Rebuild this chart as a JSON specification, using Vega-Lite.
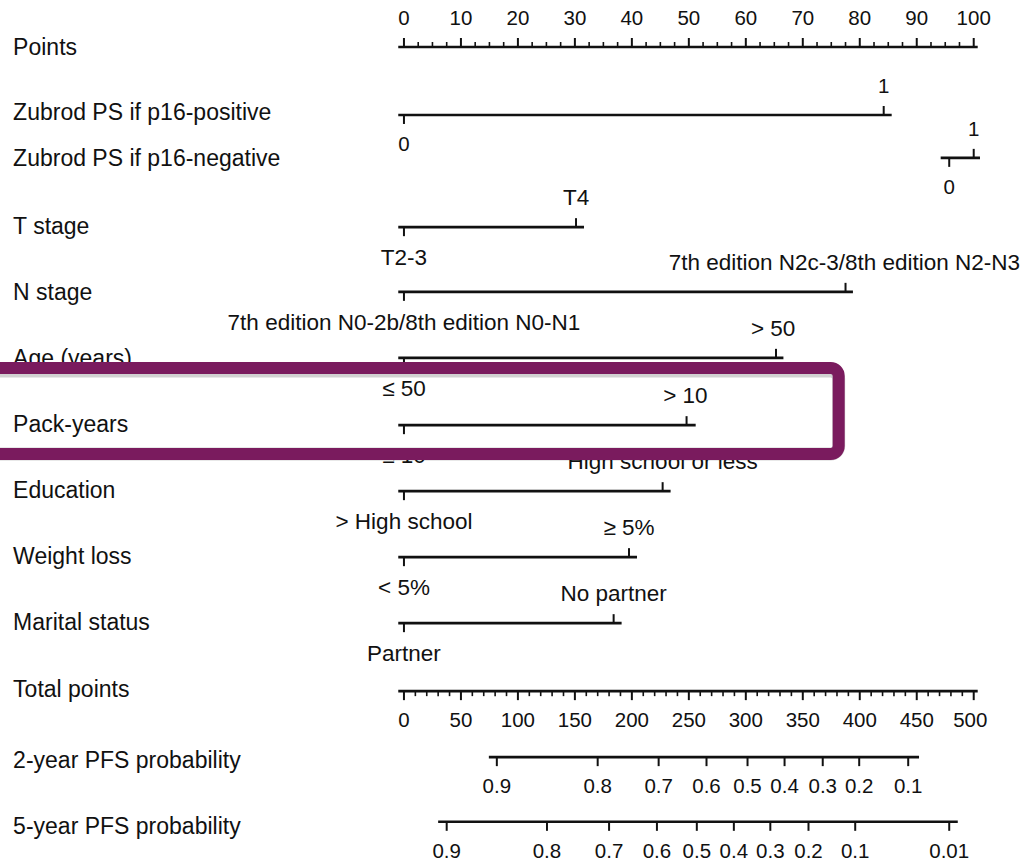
{
  "$schema": "https://vega.github.io/schema/vega-lite/v6.json",
  "width": 1025,
  "height": 863,
  "autosize": {"type": "fit", "contains": "padding"},
  "padding": 0,
  "background": "white",
  "config": {"view": {"stroke": null}},
  "datasets": {
    "rows": [
      {"name": "Points", "row": 0.01},
      {"name": "Zubrod PS if p16-positive", "row": 1.0},
      {"name": "Zubrod PS if p16-negative", "row": 1.7},
      {"name": "T stage", "row": 2.73},
      {"name": "N stage", "row": 3.73},
      {"name": "Age (years)", "row": 4.72},
      {"name": "Pack-years", "row": 5.73},
      {"name": "Education", "row": 6.73},
      {"name": "Weight loss", "row": 7.73},
      {"name": "Marital status", "row": 8.73},
      {"name": "Total points", "row": 9.74},
      {"name": "2-year PFS probability", "row": 10.82},
      {"name": "5-year PFS probability", "row": 11.82}
    ],
    "lines": [
      {"name": "Points", "row": 0, "start": -1.0, "end": 100.7},
      {"name": "Zubrod PS if p16-positive", "row": 1.03, "start": -1.0, "end": 85.6},
      {"name": "Zubrod PS if p16-negative", "row": 1.68, "start": 94.2, "end": 101.1},
      {"name": "T stage", "row": 2.73, "start": -1.0, "end": 31.6},
      {"name": "N stage", "row": 3.71, "start": -1.0, "end": 78.8},
      {"name": "Age (years)", "row": 4.71, "start": -1.0, "end": 66.6},
      {"name": "Pack-years", "row": 5.73, "start": -1.0, "end": 51.2},
      {"name": "Education", "row": 6.73, "start": -1.0, "end": 46.8},
      {"name": "Weight loss", "row": 7.73, "start": -1.0, "end": 40.9},
      {"name": "Marital status", "row": 8.73, "start": -1.0, "end": 38.2},
      {"name": "Total points", "row": 9.76, "start": -1.0, "end": 100.7},
      {"name": "2-year PFS probability", "row": 10.76, "start": 14.9, "end": 90.4},
      {"name": "5-year PFS probability", "row": 11.74, "start": 6.0, "end": 97.2}
    ],
    "ticks": [
      {"name": "Points", "row": 0, "pts": 0, "lx": 0, "label": "0", "dir": "up", "major": true, "cat": false},
      {"name": "Points", "row": 0, "pts": 2.5, "lx": 2.5, "label": "", "dir": "up", "major": false, "cat": false},
      {"name": "Points", "row": 0, "pts": 5, "lx": 5, "label": "", "dir": "up", "major": false, "cat": false},
      {"name": "Points", "row": 0, "pts": 7.5, "lx": 7.5, "label": "", "dir": "up", "major": false, "cat": false},
      {"name": "Points", "row": 0, "pts": 10, "lx": 10, "label": "10", "dir": "up", "major": true, "cat": false},
      {"name": "Points", "row": 0, "pts": 12.5, "lx": 12.5, "label": "", "dir": "up", "major": false, "cat": false},
      {"name": "Points", "row": 0, "pts": 15, "lx": 15, "label": "", "dir": "up", "major": false, "cat": false},
      {"name": "Points", "row": 0, "pts": 17.5, "lx": 17.5, "label": "", "dir": "up", "major": false, "cat": false},
      {"name": "Points", "row": 0, "pts": 20, "lx": 20, "label": "20", "dir": "up", "major": true, "cat": false},
      {"name": "Points", "row": 0, "pts": 22.5, "lx": 22.5, "label": "", "dir": "up", "major": false, "cat": false},
      {"name": "Points", "row": 0, "pts": 25, "lx": 25, "label": "", "dir": "up", "major": false, "cat": false},
      {"name": "Points", "row": 0, "pts": 27.5, "lx": 27.5, "label": "", "dir": "up", "major": false, "cat": false},
      {"name": "Points", "row": 0, "pts": 30, "lx": 30, "label": "30", "dir": "up", "major": true, "cat": false},
      {"name": "Points", "row": 0, "pts": 32.5, "lx": 32.5, "label": "", "dir": "up", "major": false, "cat": false},
      {"name": "Points", "row": 0, "pts": 35, "lx": 35, "label": "", "dir": "up", "major": false, "cat": false},
      {"name": "Points", "row": 0, "pts": 37.5, "lx": 37.5, "label": "", "dir": "up", "major": false, "cat": false},
      {"name": "Points", "row": 0, "pts": 40, "lx": 40, "label": "40", "dir": "up", "major": true, "cat": false},
      {"name": "Points", "row": 0, "pts": 42.5, "lx": 42.5, "label": "", "dir": "up", "major": false, "cat": false},
      {"name": "Points", "row": 0, "pts": 45, "lx": 45, "label": "", "dir": "up", "major": false, "cat": false},
      {"name": "Points", "row": 0, "pts": 47.5, "lx": 47.5, "label": "", "dir": "up", "major": false, "cat": false},
      {"name": "Points", "row": 0, "pts": 50, "lx": 50, "label": "50", "dir": "up", "major": true, "cat": false},
      {"name": "Points", "row": 0, "pts": 52.5, "lx": 52.5, "label": "", "dir": "up", "major": false, "cat": false},
      {"name": "Points", "row": 0, "pts": 55, "lx": 55, "label": "", "dir": "up", "major": false, "cat": false},
      {"name": "Points", "row": 0, "pts": 57.5, "lx": 57.5, "label": "", "dir": "up", "major": false, "cat": false},
      {"name": "Points", "row": 0, "pts": 60, "lx": 60, "label": "60", "dir": "up", "major": true, "cat": false},
      {"name": "Points", "row": 0, "pts": 62.5, "lx": 62.5, "label": "", "dir": "up", "major": false, "cat": false},
      {"name": "Points", "row": 0, "pts": 65, "lx": 65, "label": "", "dir": "up", "major": false, "cat": false},
      {"name": "Points", "row": 0, "pts": 67.5, "lx": 67.5, "label": "", "dir": "up", "major": false, "cat": false},
      {"name": "Points", "row": 0, "pts": 70, "lx": 70, "label": "70", "dir": "up", "major": true, "cat": false},
      {"name": "Points", "row": 0, "pts": 72.5, "lx": 72.5, "label": "", "dir": "up", "major": false, "cat": false},
      {"name": "Points", "row": 0, "pts": 75, "lx": 75, "label": "", "dir": "up", "major": false, "cat": false},
      {"name": "Points", "row": 0, "pts": 77.5, "lx": 77.5, "label": "", "dir": "up", "major": false, "cat": false},
      {"name": "Points", "row": 0, "pts": 80, "lx": 80, "label": "80", "dir": "up", "major": true, "cat": false},
      {"name": "Points", "row": 0, "pts": 82.5, "lx": 82.5, "label": "", "dir": "up", "major": false, "cat": false},
      {"name": "Points", "row": 0, "pts": 85, "lx": 85, "label": "", "dir": "up", "major": false, "cat": false},
      {"name": "Points", "row": 0, "pts": 87.5, "lx": 87.5, "label": "", "dir": "up", "major": false, "cat": false},
      {"name": "Points", "row": 0, "pts": 90, "lx": 90, "label": "90", "dir": "up", "major": true, "cat": false},
      {"name": "Points", "row": 0, "pts": 92.5, "lx": 92.5, "label": "", "dir": "up", "major": false, "cat": false},
      {"name": "Points", "row": 0, "pts": 95, "lx": 95, "label": "", "dir": "up", "major": false, "cat": false},
      {"name": "Points", "row": 0, "pts": 97.5, "lx": 97.5, "label": "", "dir": "up", "major": false, "cat": false},
      {"name": "Points", "row": 0, "pts": 100, "lx": 100, "label": "100", "dir": "up", "major": true, "cat": false},

      {"name": "Zubrod PS if p16-positive", "row": 1.03, "pts": 0, "lx": 0, "label": "0", "dir": "down", "major": true, "cat": false},
      {"name": "Zubrod PS if p16-positive", "row": 1.03, "pts": 84.2, "lx": 84.2, "label": "1", "dir": "up", "major": true, "cat": false},
      {"name": "Zubrod PS if p16-negative", "row": 1.68, "pts": 95.7, "lx": 95.7, "label": "0", "dir": "down", "major": true, "cat": false},
      {"name": "Zubrod PS if p16-negative", "row": 1.68, "pts": 100, "lx": 100, "label": "1", "dir": "up", "major": true, "cat": false},
      {"name": "T stage", "row": 2.73, "pts": 0, "lx": 0, "label": "T2-3", "dir": "down", "major": true, "cat": true},
      {"name": "T stage", "row": 2.73, "pts": 30.2, "lx": 30.2, "label": "T4", "dir": "up", "major": true, "cat": true},
      {"name": "N stage", "row": 3.71, "pts": 0, "lx": 0, "label": "7th edition N0-2b/8th edition N0-N1", "dir": "down", "major": true, "cat": true},
      {"name": "N stage", "row": 3.71, "pts": 77.5, "lx": 77.3, "label": "7th edition N2c-3/8th edition N2-N3", "dir": "up", "major": true, "cat": true},
      {"name": "Age (years)", "row": 4.71, "pts": 0, "lx": 0, "label": "≤ 50", "dir": "down", "major": true, "cat": true},
      {"name": "Age (years)", "row": 4.71, "pts": 65.3, "lx": 64.8, "label": "> 50", "dir": "up", "major": true, "cat": true},
      {"name": "Pack-years", "row": 5.73, "pts": 0, "lx": 0, "label": "≤ 10", "dir": "down", "major": true, "cat": true},
      {"name": "Pack-years", "row": 5.73, "pts": 49.6, "lx": 49.4, "label": "> 10", "dir": "up", "major": true, "cat": true},
      {"name": "Education", "row": 6.73, "pts": 0, "lx": 0, "label": "> High school", "dir": "down", "major": true, "cat": true},
      {"name": "Education", "row": 6.73, "pts": 45.4, "lx": 45.4, "label": "High school or less", "dir": "up", "major": true, "cat": true},
      {"name": "Weight loss", "row": 7.73, "pts": 0, "lx": 0, "label": "< 5%", "dir": "down", "major": true, "cat": true},
      {"name": "Weight loss", "row": 7.73, "pts": 39.5, "lx": 39.5, "label": "≥ 5%", "dir": "up", "major": true, "cat": true},
      {"name": "Marital status", "row": 8.73, "pts": 0, "lx": 0, "label": "Partner", "dir": "down", "major": true, "cat": true},
      {"name": "Marital status", "row": 8.73, "pts": 36.8, "lx": 36.8, "label": "No partner", "dir": "up", "major": true, "cat": true},

      {"name": "Total points", "row": 9.76, "pts": 0, "lx": 0, "label": "0", "dir": "down", "major": true, "cat": false},
      {"name": "Total points", "row": 9.76, "pts": 2, "lx": 2, "label": "", "dir": "down", "major": false, "cat": false},
      {"name": "Total points", "row": 9.76, "pts": 4, "lx": 4, "label": "", "dir": "down", "major": false, "cat": false},
      {"name": "Total points", "row": 9.76, "pts": 6, "lx": 6, "label": "", "dir": "down", "major": false, "cat": false},
      {"name": "Total points", "row": 9.76, "pts": 8, "lx": 8, "label": "", "dir": "down", "major": false, "cat": false},
      {"name": "Total points", "row": 9.76, "pts": 10, "lx": 10, "label": "50", "dir": "down", "major": true, "cat": false},
      {"name": "Total points", "row": 9.76, "pts": 12, "lx": 12, "label": "", "dir": "down", "major": false, "cat": false},
      {"name": "Total points", "row": 9.76, "pts": 14, "lx": 14, "label": "", "dir": "down", "major": false, "cat": false},
      {"name": "Total points", "row": 9.76, "pts": 16, "lx": 16, "label": "", "dir": "down", "major": false, "cat": false},
      {"name": "Total points", "row": 9.76, "pts": 18, "lx": 18, "label": "", "dir": "down", "major": false, "cat": false},
      {"name": "Total points", "row": 9.76, "pts": 20, "lx": 20, "label": "100", "dir": "down", "major": true, "cat": false},
      {"name": "Total points", "row": 9.76, "pts": 22, "lx": 22, "label": "", "dir": "down", "major": false, "cat": false},
      {"name": "Total points", "row": 9.76, "pts": 24, "lx": 24, "label": "", "dir": "down", "major": false, "cat": false},
      {"name": "Total points", "row": 9.76, "pts": 26, "lx": 26, "label": "", "dir": "down", "major": false, "cat": false},
      {"name": "Total points", "row": 9.76, "pts": 28, "lx": 28, "label": "", "dir": "down", "major": false, "cat": false},
      {"name": "Total points", "row": 9.76, "pts": 30, "lx": 30, "label": "150", "dir": "down", "major": true, "cat": false},
      {"name": "Total points", "row": 9.76, "pts": 32, "lx": 32, "label": "", "dir": "down", "major": false, "cat": false},
      {"name": "Total points", "row": 9.76, "pts": 34, "lx": 34, "label": "", "dir": "down", "major": false, "cat": false},
      {"name": "Total points", "row": 9.76, "pts": 36, "lx": 36, "label": "", "dir": "down", "major": false, "cat": false},
      {"name": "Total points", "row": 9.76, "pts": 38, "lx": 38, "label": "", "dir": "down", "major": false, "cat": false},
      {"name": "Total points", "row": 9.76, "pts": 40, "lx": 40, "label": "200", "dir": "down", "major": true, "cat": false},
      {"name": "Total points", "row": 9.76, "pts": 42, "lx": 42, "label": "", "dir": "down", "major": false, "cat": false},
      {"name": "Total points", "row": 9.76, "pts": 44, "lx": 44, "label": "", "dir": "down", "major": false, "cat": false},
      {"name": "Total points", "row": 9.76, "pts": 46, "lx": 46, "label": "", "dir": "down", "major": false, "cat": false},
      {"name": "Total points", "row": 9.76, "pts": 48, "lx": 48, "label": "", "dir": "down", "major": false, "cat": false},
      {"name": "Total points", "row": 9.76, "pts": 50, "lx": 50, "label": "250", "dir": "down", "major": true, "cat": false},
      {"name": "Total points", "row": 9.76, "pts": 52, "lx": 52, "label": "", "dir": "down", "major": false, "cat": false},
      {"name": "Total points", "row": 9.76, "pts": 54, "lx": 54, "label": "", "dir": "down", "major": false, "cat": false},
      {"name": "Total points", "row": 9.76, "pts": 56, "lx": 56, "label": "", "dir": "down", "major": false, "cat": false},
      {"name": "Total points", "row": 9.76, "pts": 58, "lx": 58, "label": "", "dir": "down", "major": false, "cat": false},
      {"name": "Total points", "row": 9.76, "pts": 60, "lx": 60, "label": "300", "dir": "down", "major": true, "cat": false},
      {"name": "Total points", "row": 9.76, "pts": 62, "lx": 62, "label": "", "dir": "down", "major": false, "cat": false},
      {"name": "Total points", "row": 9.76, "pts": 64, "lx": 64, "label": "", "dir": "down", "major": false, "cat": false},
      {"name": "Total points", "row": 9.76, "pts": 66, "lx": 66, "label": "", "dir": "down", "major": false, "cat": false},
      {"name": "Total points", "row": 9.76, "pts": 68, "lx": 68, "label": "", "dir": "down", "major": false, "cat": false},
      {"name": "Total points", "row": 9.76, "pts": 70, "lx": 70, "label": "350", "dir": "down", "major": true, "cat": false},
      {"name": "Total points", "row": 9.76, "pts": 72, "lx": 72, "label": "", "dir": "down", "major": false, "cat": false},
      {"name": "Total points", "row": 9.76, "pts": 74, "lx": 74, "label": "", "dir": "down", "major": false, "cat": false},
      {"name": "Total points", "row": 9.76, "pts": 76, "lx": 76, "label": "", "dir": "down", "major": false, "cat": false},
      {"name": "Total points", "row": 9.76, "pts": 78, "lx": 78, "label": "", "dir": "down", "major": false, "cat": false},
      {"name": "Total points", "row": 9.76, "pts": 80, "lx": 80, "label": "400", "dir": "down", "major": true, "cat": false},
      {"name": "Total points", "row": 9.76, "pts": 82, "lx": 82, "label": "", "dir": "down", "major": false, "cat": false},
      {"name": "Total points", "row": 9.76, "pts": 84, "lx": 84, "label": "", "dir": "down", "major": false, "cat": false},
      {"name": "Total points", "row": 9.76, "pts": 86, "lx": 86, "label": "", "dir": "down", "major": false, "cat": false},
      {"name": "Total points", "row": 9.76, "pts": 88, "lx": 88, "label": "", "dir": "down", "major": false, "cat": false},
      {"name": "Total points", "row": 9.76, "pts": 90, "lx": 90, "label": "450", "dir": "down", "major": true, "cat": false},
      {"name": "Total points", "row": 9.76, "pts": 92, "lx": 92, "label": "", "dir": "down", "major": false, "cat": false},
      {"name": "Total points", "row": 9.76, "pts": 94, "lx": 94, "label": "", "dir": "down", "major": false, "cat": false},
      {"name": "Total points", "row": 9.76, "pts": 96, "lx": 96, "label": "", "dir": "down", "major": false, "cat": false},
      {"name": "Total points", "row": 9.76, "pts": 98, "lx": 98, "label": "", "dir": "down", "major": false, "cat": false},
      {"name": "Total points", "row": 9.76, "pts": 100, "lx": 99.4, "label": "500", "dir": "down", "major": true, "cat": false},

      {"name": "2-year PFS probability", "row": 10.76, "pts": 16.3, "lx": 16.3, "label": "0.9", "dir": "down", "major": true, "cat": false},
      {"name": "2-year PFS probability", "row": 10.76, "pts": 34.0, "lx": 34.0, "label": "0.8", "dir": "down", "major": true, "cat": false},
      {"name": "2-year PFS probability", "row": 10.76, "pts": 44.7, "lx": 44.7, "label": "0.7", "dir": "down", "major": true, "cat": false},
      {"name": "2-year PFS probability", "row": 10.76, "pts": 53.1, "lx": 53.1, "label": "0.6", "dir": "down", "major": true, "cat": false},
      {"name": "2-year PFS probability", "row": 10.76, "pts": 60.3, "lx": 60.3, "label": "0.5", "dir": "down", "major": true, "cat": false},
      {"name": "2-year PFS probability", "row": 10.76, "pts": 66.8, "lx": 66.8, "label": "0.4", "dir": "down", "major": true, "cat": false},
      {"name": "2-year PFS probability", "row": 10.76, "pts": 73.5, "lx": 73.5, "label": "0.3", "dir": "down", "major": true, "cat": false},
      {"name": "2-year PFS probability", "row": 10.76, "pts": 79.9, "lx": 79.9, "label": "0.2", "dir": "down", "major": true, "cat": false},
      {"name": "2-year PFS probability", "row": 10.76, "pts": 88.5, "lx": 88.5, "label": "0.1", "dir": "down", "major": true, "cat": false},

      {"name": "5-year PFS probability", "row": 11.74, "pts": 7.5, "lx": 7.5, "label": "0.9", "dir": "down", "major": true, "cat": false},
      {"name": "5-year PFS probability", "row": 11.74, "pts": 25.1, "lx": 25.1, "label": "0.8", "dir": "down", "major": true, "cat": false},
      {"name": "5-year PFS probability", "row": 11.74, "pts": 36.0, "lx": 36.0, "label": "0.7", "dir": "down", "major": true, "cat": false},
      {"name": "5-year PFS probability", "row": 11.74, "pts": 44.4, "lx": 44.4, "label": "0.6", "dir": "down", "major": true, "cat": false},
      {"name": "5-year PFS probability", "row": 11.74, "pts": 51.4, "lx": 51.4, "label": "0.5", "dir": "down", "major": true, "cat": false},
      {"name": "5-year PFS probability", "row": 11.74, "pts": 57.9, "lx": 57.9, "label": "0.4", "dir": "down", "major": true, "cat": false},
      {"name": "5-year PFS probability", "row": 11.74, "pts": 64.3, "lx": 64.3, "label": "0.3", "dir": "down", "major": true, "cat": false},
      {"name": "5-year PFS probability", "row": 11.74, "pts": 71.0, "lx": 71.0, "label": "0.2", "dir": "down", "major": true, "cat": false},
      {"name": "5-year PFS probability", "row": 11.74, "pts": 79.2, "lx": 79.2, "label": "0.1", "dir": "down", "major": true, "cat": false},
      {"name": "5-year PFS probability", "row": 11.74, "pts": 95.7, "lx": 95.7, "label": "0.01", "dir": "down", "major": true, "cat": false}
    ],
    "highlight": [
      {"name": "Pack-years", "x0": -80, "x1": 76.3, "y0": 4.864, "y1": 6.167}
    ]
  },
  "encoding": {
    "x": {"type": "quantitative", "scale": {"domain": [-70.9, 109.0], "nice": false, "zero": false}, "axis": null},
    "y": {"type": "quantitative", "scale": {"domain": [-0.712, 12.364], "nice": false, "zero": false, "reverse": true}, "axis": null}
  },
  "layer": [
    {
      "data": {"name": "lines"},
      "mark": {"type": "rule", "color": "#111111", "strokeWidth": 2.6},
      "encoding": {
        "x": {"field": "start", "type": "quantitative"},
        "x2": {"field": "end"},
        "y": {"field": "row", "type": "quantitative"}
      }
    },
    {
      "data": {"name": "ticks"},
      "transform": [{"filter": "datum.dir === 'up' && datum.major"}],
      "mark": {"type": "rule", "color": "#111111", "strokeWidth": 2, "y2Offset": -9},
      "encoding": {
        "x": {"field": "pts", "type": "quantitative"},
        "y": {"field": "row", "type": "quantitative"},
        "y2": {"field": "row"}
      }
    },
    {
      "data": {"name": "ticks"},
      "transform": [{"filter": "datum.dir === 'up' && !datum.major"}],
      "mark": {"type": "rule", "color": "#111111", "strokeWidth": 1.6, "y2Offset": -5},
      "encoding": {
        "x": {"field": "pts", "type": "quantitative"},
        "y": {"field": "row", "type": "quantitative"},
        "y2": {"field": "row"}
      }
    },
    {
      "data": {"name": "ticks"},
      "transform": [{"filter": "datum.dir === 'down' && datum.major"}],
      "mark": {"type": "rule", "color": "#111111", "strokeWidth": 2, "y2Offset": 9},
      "encoding": {
        "x": {"field": "pts", "type": "quantitative"},
        "y": {"field": "row", "type": "quantitative"},
        "y2": {"field": "row"}
      }
    },
    {
      "data": {"name": "ticks"},
      "transform": [{"filter": "datum.dir === 'down' && !datum.major"}],
      "mark": {"type": "rule", "color": "#111111", "strokeWidth": 1.6, "y2Offset": 5},
      "encoding": {
        "x": {"field": "pts", "type": "quantitative"},
        "y": {"field": "row", "type": "quantitative"},
        "y2": {"field": "row"}
      }
    },
    {
      "data": {"name": "ticks"},
      "transform": [{"filter": "datum.dir === 'up' && datum.label !== '' && !datum.cat"}],
      "mark": {"type": "text", "font": "Liberation Sans", "fontSize": 20.5, "color": "#111111", "align": "center", "baseline": "middle", "dy": -28},
      "encoding": {
        "x": {"field": "lx", "type": "quantitative"},
        "y": {"field": "row", "type": "quantitative"},
        "text": {"field": "label"}
      }
    },
    {
      "data": {"name": "ticks"},
      "transform": [{"filter": "datum.dir === 'down' && datum.label !== '' && !datum.cat"}],
      "mark": {"type": "text", "font": "Liberation Sans", "fontSize": 20.5, "color": "#111111", "align": "center", "baseline": "middle", "dy": 30},
      "encoding": {
        "x": {"field": "lx", "type": "quantitative"},
        "y": {"field": "row", "type": "quantitative"},
        "text": {"field": "label"}
      }
    },
    {
      "data": {"name": "ticks"},
      "transform": [{"filter": "datum.dir === 'up' && datum.cat"}],
      "mark": {"type": "text", "font": "Liberation Sans", "fontSize": 22.5, "color": "#111111", "align": "center", "baseline": "middle", "dy": -29},
      "encoding": {
        "x": {"field": "lx", "type": "quantitative"},
        "y": {"field": "row", "type": "quantitative"},
        "text": {"field": "label"}
      }
    },
    {
      "data": {"name": "ticks"},
      "transform": [{"filter": "datum.dir === 'down' && datum.cat"}],
      "mark": {"type": "text", "font": "Liberation Sans", "fontSize": 22.5, "color": "#111111", "align": "center", "baseline": "middle", "dy": 31},
      "encoding": {
        "x": {"field": "lx", "type": "quantitative"},
        "y": {"field": "row", "type": "quantitative"},
        "text": {"field": "label"}
      }
    },
    {
      "data": {"name": "rows"},
      "mark": {"type": "text", "font": "Liberation Sans", "fontSize": 23, "color": "#111111", "align": "left", "baseline": "middle"},
      "encoding": {
        "x": {"datum": -68.6, "type": "quantitative"},
        "y": {"field": "row", "type": "quantitative"},
        "text": {"field": "name"}
      }
    },
    {
      "data": {"name": "highlight"},
      "mark": {"type": "rect", "fill": null, "stroke": "#000000", "strokeOpacity": 0.18, "strokeWidth": 13, "cornerRadius": 8, "clip": true, "xOffset": 2, "yOffset": 3},
      "encoding": {
        "x": {"field": "x0", "type": "quantitative"},
        "x2": {"field": "x1"},
        "y": {"field": "y0", "type": "quantitative"},
        "y2": {"field": "y1"}
      }
    },
    {
      "data": {"name": "highlight"},
      "mark": {"type": "rect", "fill": null, "stroke": "#7a1b5e", "strokeWidth": 12, "cornerRadius": 8, "clip": true},
      "encoding": {
        "x": {"field": "x0", "type": "quantitative"},
        "x2": {"field": "x1"},
        "y": {"field": "y0", "type": "quantitative"},
        "y2": {"field": "y1"}
      }
    }
  ]
}
